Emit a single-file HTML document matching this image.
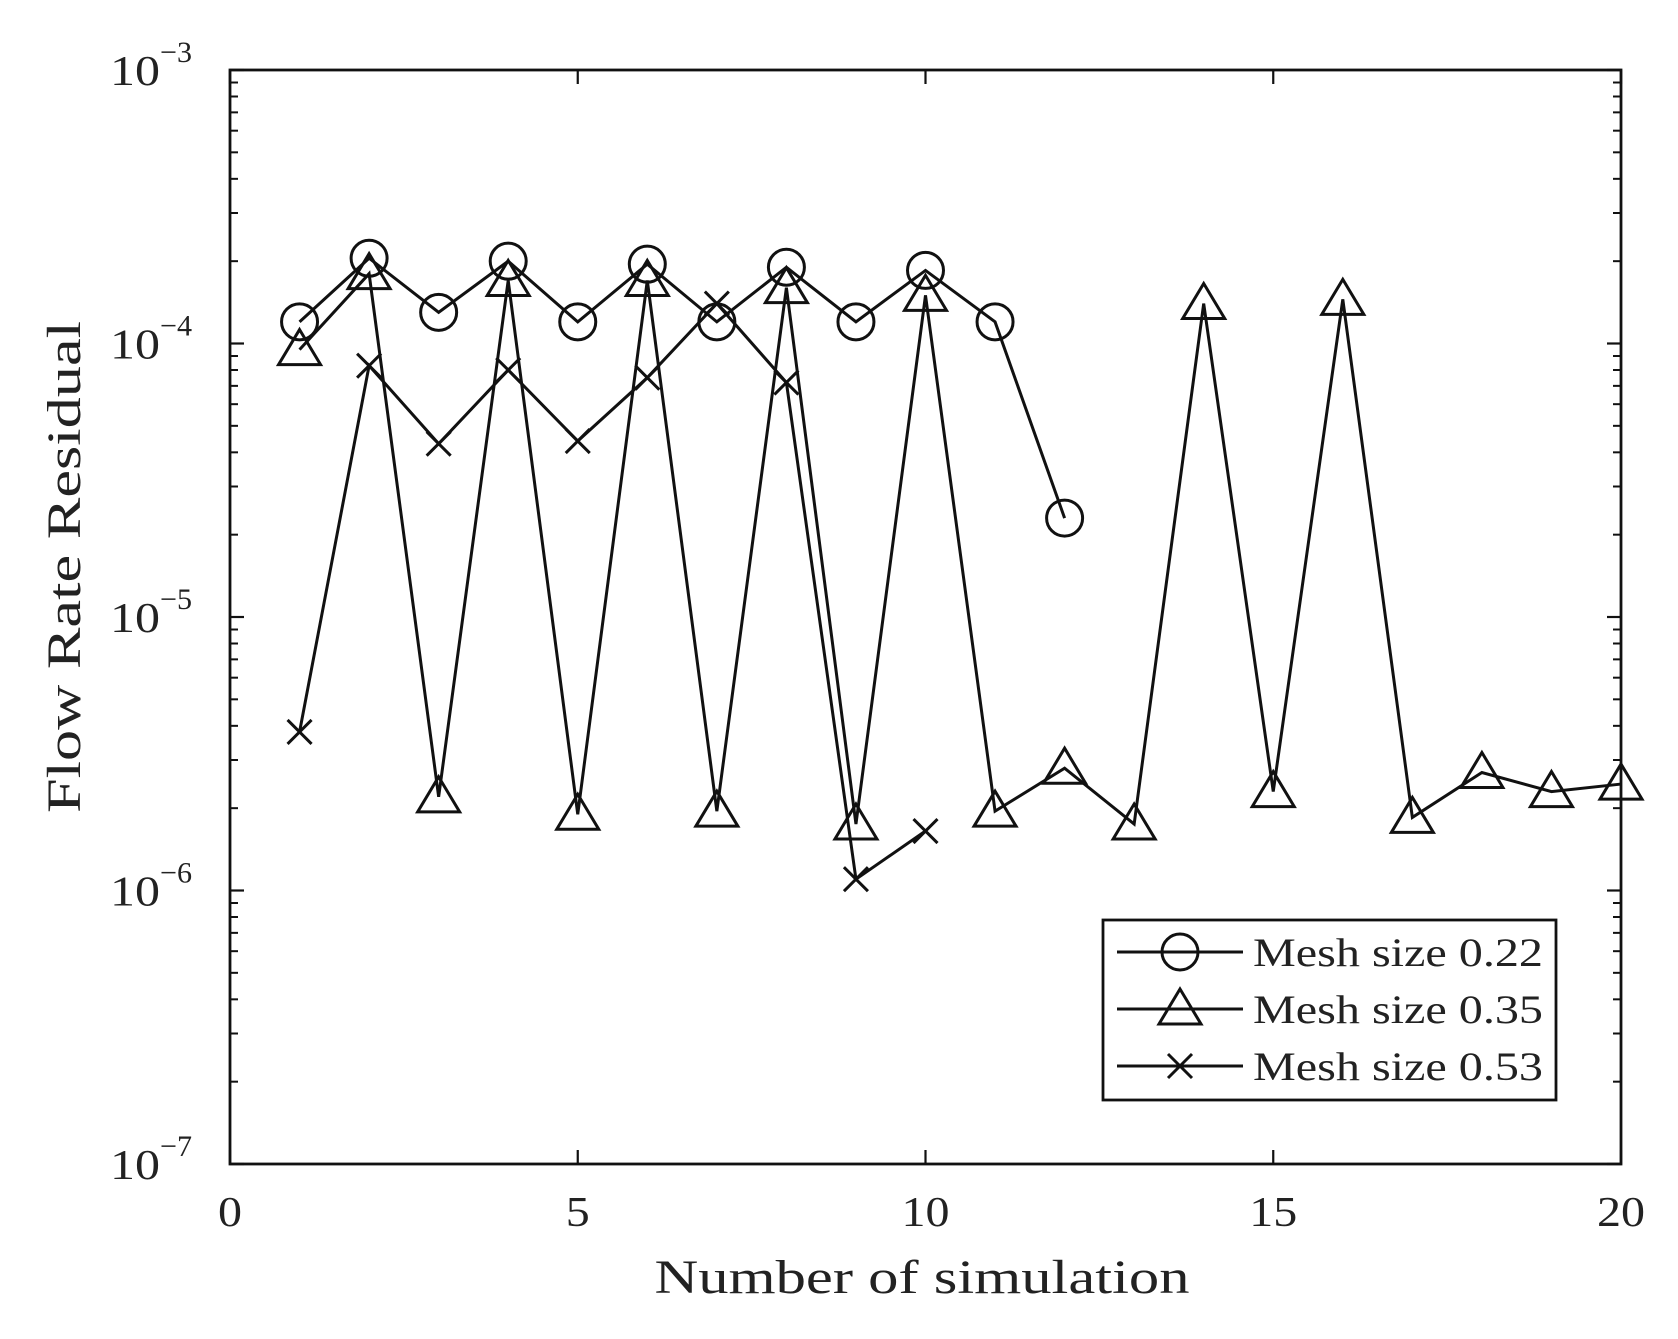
<!DOCTYPE html>
<html><head><meta charset="utf-8"><style>
html,body{margin:0;padding:0;background:#fff;}
svg{display:block;font-family:"Liberation Serif",serif;}
</style></head><body>
<svg id="chart" width="1678" height="1339" viewBox="0 0 1678 1339" xmlns="http://www.w3.org/2000/svg"></svg>
<script>
const xTicks = [0,5,10,15,20];
const yExps = [-7,-6,-5,-4,-3];
const xMesh022 = [1,2,3,4,5,6,7,8,9,10,11,12];
const yMesh022 = [1.2e-4,2.05e-4,1.3e-4,2.0e-4,1.2e-4,1.95e-4,1.2e-4,1.9e-4,1.2e-4,1.85e-4,1.2e-4,2.3e-5];
const xMesh035 = [1,2,3,4,5,6,7,8,9,10,11,12,13,14,15,16,17,18,19,20];
const yMesh035 = [9.5e-5,1.8e-4,2.2e-6,1.7e-4,1.9e-6,1.7e-4,1.95e-6,1.6e-4,1.75e-6,1.5e-4,1.95e-6,2.8e-6,1.75e-6,1.4e-4,2.3e-6,1.45e-4,1.85e-6,2.7e-6,2.3e-6,2.45e-6];
const xMesh053 = [1,2,3,4,5,6,7,8,9,10];
const yMesh053 = [3.8e-6,8.3e-5,4.3e-5,8.0e-5,4.4e-5,7.5e-5,1.4e-4,7.2e-5,1.1e-6,1.65e-6];
const legendLabels = ["Mesh size 0.22","Mesh size 0.35","Mesh size 0.53"];

const L=230,R=1621,T=70,B=1164;
const sx = v => L + (v-0)/(20-0)*(R-L);
const sy = v => B - (Math.log10(v)-(-7))/4*(B-T);
const svg = document.getElementById('chart');
const NS='http://www.w3.org/2000/svg';
function mk(tag, attrs, parent){const e=document.createElementNS(NS,tag);for(const k in attrs)e.setAttribute(k,attrs[k]);(parent||svg).appendChild(e);return e;}
const SW=3;

const box = mk('rect',{x:L,y:T,width:R-L,height:B-T,fill:'none',stroke:'#111','stroke-width':2.8});



xTicks.forEach(v=>{
  const x=sx(v);
  mk('line',{x1:x,y1:B,x2:x,y2:B-14,stroke:'#111','stroke-width':2.2});
  mk('line',{x1:x,y1:T,x2:x,y2:T+14,stroke:'#111','stroke-width':2.2});
  const s=String(v);
  const t=mk('text',{x:x,y:B+62,'font-size':42,'text-anchor':'middle',fill:'#222',textLength:s.length*24,lengthAdjust:'spacingAndGlyphs'});
  t.textContent=s;
  
  
});
yExps.forEach(e=>{
  const y=sy(Math.pow(10,e));
  mk('line',{x1:L,y1:y,x2:L+14,y2:y,stroke:'#111','stroke-width':2.2});
  mk('line',{x1:R,y1:y,x2:R-14,y2:y,stroke:'#111','stroke-width':2.2});
  if(e<-3){for(let m=2;m<=9;m++){const yy=sy(m*Math.pow(10,e));
    mk('line',{x1:L,y1:yy,x2:L+8,y2:yy,stroke:'#111','stroke-width':2});
    mk('line',{x1:R,y1:yy,x2:R-8,y2:yy,stroke:'#111','stroke-width':2});}}
  const t=mk('text',{x:L-70,y:y+15,'font-size':42,'text-anchor':'end',fill:'#222',textLength:50,lengthAdjust:'spacingAndGlyphs'});
  t.textContent='10';
  
  
  const s=mk('text',{x:L-70,y:y-8,'font-size':30,'text-anchor':'start',fill:'#222',textLength:32,lengthAdjust:'spacingAndGlyphs'});
  s.textContent='\u2212'+(-e);
  
  
});
const xt=mk('text',{x:922,y:1293,'font-size':48,'text-anchor':'middle',fill:'#222',textLength:535,lengthAdjust:'spacingAndGlyphs'});
xt.textContent='Number of simulation';


const yt=mk('text',{x:0,y:0,'font-size':48,'text-anchor':'middle',fill:'#222',textLength:492,lengthAdjust:'spacingAndGlyphs',transform:`translate(80,567) rotate(-90)`});
yt.textContent='Flow Rate Residual';



function marker(kind,x,y,parent){
  if(kind==='o') return mk('circle',{cx:x,cy:y,r:18,fill:'none',stroke:'#111','stroke-width':SW},parent);
  if(kind==='^') return mk('polygon',{points:`${x},${y-20} ${x+21},${y+15} ${x-21},${y+15}`,fill:'none',stroke:'#111','stroke-width':SW},parent);
  const g=mk('g',{},parent);
  mk('line',{x1:x-12,y1:y-12,x2:x+12,y2:y+12,stroke:'#111','stroke-width':SW},g);
  mk('line',{x1:x-12,y1:y+12,x2:x+12,y2:y-12,stroke:'#111','stroke-width':SW},g);
  return g;
}
function series(xs,ys,kind,name){
  const g=mk('g',{});
  
  
  mk('polyline',{points:xs.map((v,i)=>sx(v)+','+sy(ys[i])).join(' '),fill:'none',stroke:'#111','stroke-width':SW},g);
  xs.forEach((v,i)=>{const m=marker(kind,sx(v),sy(ys[i]),g);
    
    });
}
series(xMesh022,yMesh022,'o','series-mesh-0-22');
series(xMesh035,yMesh035,'^','series-mesh-0-35');
series(xMesh053,yMesh053,'x','series-mesh-0-53');

const lg=mk('g',{});


mk('rect',{x:1103,y:920,width:453,height:180,fill:'#fff',stroke:'#111','stroke-width':2.8},lg);
['o','^','x'].forEach((k,i)=>{
  const y=952+i*57;
  const e=mk('g',{},lg);
  
  
  mk('line',{x1:1117,y1:y,x2:1243,y2:y,stroke:'#111','stroke-width':SW},e);
  marker(k,1180,y,e);
  const t=mk('text',{x:1253,y:y+14,'font-size':40,fill:'#222',textLength:290,lengthAdjust:'spacingAndGlyphs'},e);
  t.textContent=legendLabels[i];
});
</script>
</body></html>
